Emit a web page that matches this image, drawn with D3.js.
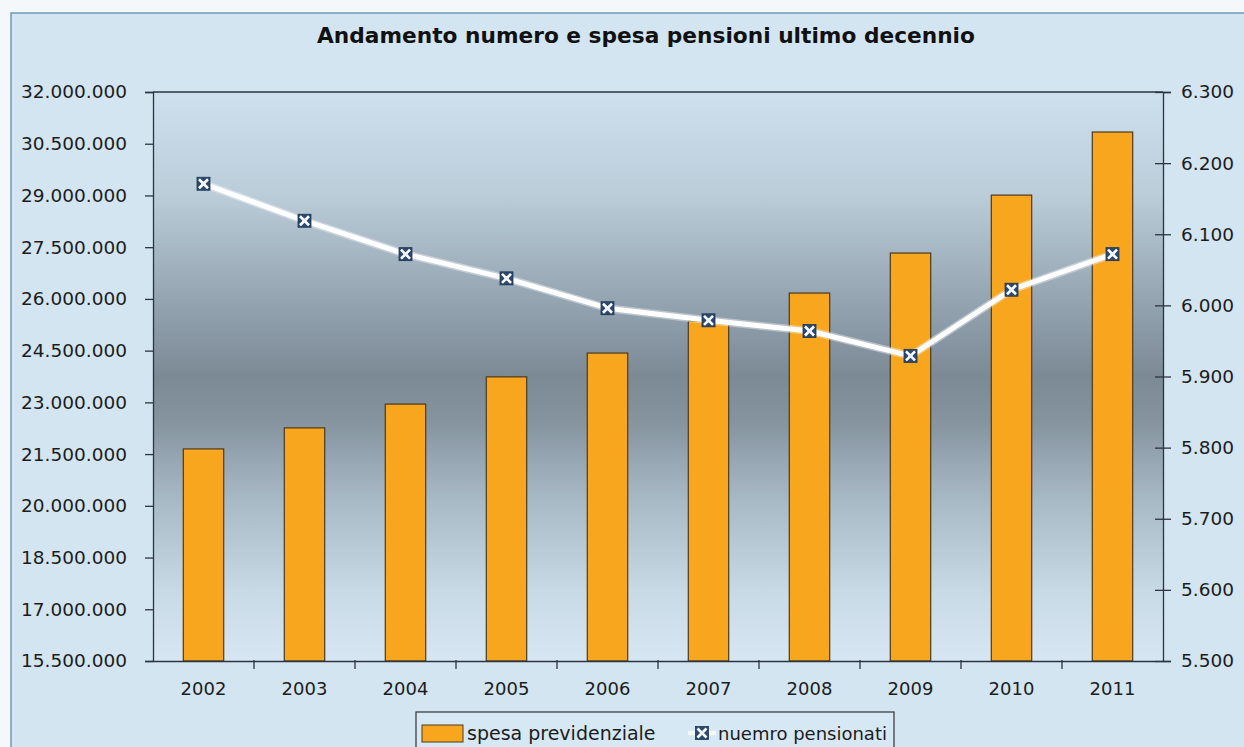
<!DOCTYPE html>
<html>
<head>
<meta charset="utf-8">
<script src="https://cdn.jsdelivr.net/npm/d3@7"></script>
<style>
  body { margin: 0; background: #f4f8fb; }
  svg { display: block; font-family: "DejaVu Sans", "Liberation Sans", Arial, sans-serif; }
</style>
</head>
<body>
<div id="chart"></div>
<script>
"use strict";

// Data
const years = ["2002", "2003", "2004", "2005", "2006", "2007", "2008", "2009", "2010", "2011"];
const spesaPrevidenziale = [21650000, 22260000, 22950000, 23740000, 24430000, 25360000, 26170000, 27330000, 29010000, 30840000];
const numeroPensionati = [6171, 6119, 6072, 6038, 5996, 5979, 5964, 5929, 6022, 6072];
const leftTicks = [15500000, 17000000, 18500000, 20000000, 21500000, 23000000, 24500000, 26000000, 27500000, 29000000, 30500000, 32000000];
const rightTicks = [5500, 5600, 5700, 5800, 5900, 6000, 6100, 6200, 6300];
const title = "Andamento numero e spesa pensioni ultimo decennio";
const legendLabels = ["spesa previdenziale", "nuemro pensionati"];

const W = 1244, H = 747;
const M = { left: 153, right: 1163, top: 92, bottom: 661 };

const itLocale = d3.formatLocale({ decimal: ",", thousands: ".", grouping: [3], currency: ["€", ""] });
const fmt = itLocale.format(",d");

const svg = d3.select("#chart").append("svg").attr("width", W).attr("height", H);

// Gradient for the plot area
const defs = svg.append("defs");
const grad = defs.append("linearGradient").attr("id", "plotBg").attr("x1", 0).attr("y1", 0).attr("x2", 0).attr("y2", 1);
[
  [0, "#cde0ee"], [0.18, "#bccdda"], [0.36, "#95a5b2"], [0.5, "#7c8a96"],
  [0.58, "#85949f"], [0.72, "#a9bac7"], [0.88, "#c9dae7"], [1, "#d6e6f2"]
].forEach(([o, c]) => grad.append("stop").attr("offset", o).attr("stop-color", c));

// Outer frame
svg.append("rect").attr("x", 11).attr("y", 13).attr("width", W).attr("height", H)
  .attr("fill", "#d3e5f1").attr("stroke", "#6f9cba").attr("stroke-width", 1.5);

// Plot background
svg.append("rect").attr("x", M.left).attr("y", M.top)
  .attr("width", M.right - M.left).attr("height", M.bottom - M.top)
  .attr("fill", "url(#plotBg)");

// Scales
const x = d3.scaleBand().domain(years).range([M.left, M.right]).paddingInner(0.6).paddingOuter(0.3);
const yL = d3.scaleLinear().domain([15500000, 32000000]).range([M.bottom, M.top]);
const yR = d3.scaleLinear().domain([5500, 6300]).range([M.bottom, M.top]);

// Bars
svg.append("g").selectAll("rect").data(years).join("rect")
  .attr("x", (d) => x(d))
  .attr("y", (d, i) => yL(spesaPrevidenziale[i]))
  .attr("width", x.bandwidth())
  .attr("height", (d, i) => yL(15500000) - yL(spesaPrevidenziale[i]))
  .attr("fill", "#f7a61e")
  .attr("stroke", "#4b3a1e")
  .attr("stroke-width", 1.2);

// Line
const cx = (d) => x(d) + x.bandwidth() / 2;
const lineGen = d3.line().x((d, i) => cx(years[i])).y((d) => yR(d));
svg.append("path").datum(numeroPensionati)
  .attr("d", lineGen).attr("fill", "none")
  .attr("stroke", "#eef2f8").attr("stroke-width", 8).attr("opacity", 0.45)
  .attr("stroke-linejoin", "round");
svg.append("path").datum(numeroPensionati)
  .attr("d", lineGen).attr("fill", "none")
  .attr("stroke", "#ffffff").attr("stroke-width", 5).attr("stroke-linejoin", "round");

function drawMarker(g, px, py) {
  const s = 6.5;
  g.append("rect").attr("x", px - s).attr("y", py - s).attr("width", 2 * s).attr("height", 2 * s)
    .attr("fill", "#2c4a70").attr("stroke", "#1e3350").attr("stroke-width", 0.8);
  g.append("path")
    .attr("d", `M${px - s + 2},${py - s + 2}L${px + s - 2},${py + s - 2}M${px + s - 2},${py - s + 2}L${px - s + 2},${py + s - 2}`)
    .attr("stroke", "#ffffff").attr("stroke-width", 2.6);
  g.append("rect").attr("x", px - 2).attr("y", py - 2).attr("width", 4).attr("height", 4).attr("fill", "#eef4fb");
}

const markers = svg.append("g");
numeroPensionati.forEach((v, i) => drawMarker(markers, cx(years[i]), yR(v)));

// Axes
const axisColor = "#2b3440";
svg.append("line").attr("x1", M.left).attr("x2", M.right).attr("y1", M.top).attr("y2", M.top)
  .attr("stroke", axisColor).attr("stroke-width", 1.3);

const leftAxis = svg.append("g").attr("transform", `translate(${M.left},0)`)
  .call(d3.axisLeft(yL).tickValues(leftTicks).tickFormat(fmt).tickSize(8).tickPadding(18));
const rightAxis = svg.append("g").attr("transform", `translate(${M.right},0)`)
  .call(d3.axisRight(yR).tickValues(rightTicks).tickFormat(fmt).tickSize(8).tickPadding(10));
[leftAxis, rightAxis].forEach((a) => {
  a.attr("font-family", null);
  a.select(".domain").attr("stroke", axisColor).attr("stroke-width", 1.3);
  a.selectAll(".tick line").attr("stroke", axisColor).attr("stroke-width", 1.3);
  a.selectAll(".tick text").attr("fill", "#1c1c1c").attr("font-size", 18.5);
});
rightAxis.selectAll(".tick line").attr("x1", -8).attr("x2", 8);
leftAxis.selectAll(".tick line").attr("x1", -8).attr("x2", 0);

const bottomAxis = svg.append("g").attr("transform", `translate(0,${M.bottom})`)
  .call(d3.axisBottom(x).tickSize(0).tickPadding(21));
bottomAxis.attr("font-family", null);
bottomAxis.select(".domain").attr("stroke", axisColor).attr("stroke-width", 1.3);
bottomAxis.selectAll(".tick text").attr("fill", "#1c1c1c").attr("font-size", 18);

// Category separator ticks on the x axis
const step = x.step();
svg.append("g").selectAll("line").data(years.slice(1)).join("line")
  .attr("x1", (d) => x(d) - (step - x.bandwidth()) / 2)
  .attr("x2", (d) => x(d) - (step - x.bandwidth()) / 2)
  .attr("y1", M.bottom - 1).attr("y2", M.bottom + 8)
  .attr("stroke", axisColor).attr("stroke-width", 1.3);

// Title
svg.append("text").attr("x", 646).attr("y", 43).attr("text-anchor", "middle")
  .attr("font-size", 21.7).attr("font-weight", "bold").attr("fill", "#111").text(title);

// Legend
const lg = svg.append("g");
lg.append("rect").attr("x", 416).attr("y", 712).attr("width", 478).attr("height", 44)
  .attr("fill", "#d6e8f4").attr("stroke", "#333").attr("stroke-width", 1.2);
lg.append("rect").attr("x", 422).attr("y", 725).attr("width", 41).attr("height", 17)
  .attr("fill", "#f7a61e").attr("stroke", "#4b3a1e").attr("stroke-width", 1);
lg.append("text").attr("x", 467).attr("y", 740).attr("font-size", 19).attr("fill", "#1c1c1c").text(legendLabels[0]);
lg.append("line").attr("x1", 688).attr("x2", 716).attr("y1", 733).attr("y2", 733)
  .attr("stroke", "#ffffff").attr("stroke-width", 4.5).attr("opacity", 0.7);
drawMarker(lg, 702, 733);
lg.append("text").attr("x", 718).attr("y", 740).attr("font-size", 18).attr("fill", "#1c1c1c").text(legendLabels[1]);
</script>
</body>
</html>
